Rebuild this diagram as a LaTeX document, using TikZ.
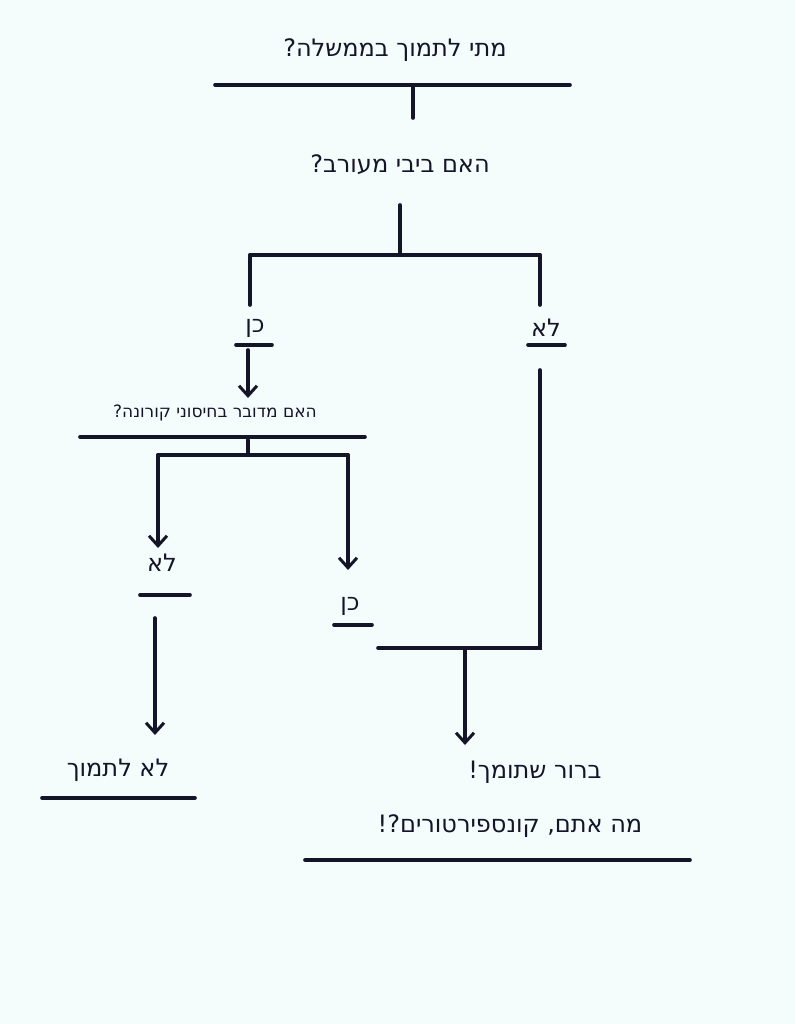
\documentclass[tikz,border=0pt]{standalone}
\usepackage{fontspec}
\setmainfont{DejaVu Sans}
\usetikzlibrary{arrows.meta}
\definecolor{ink}{HTML}{15152A}
\definecolor{bg}{HTML}{F4FCFC}
\newcommand{\hb}[1]{\hbox{#1}}
\begin{document}
\begin{tikzpicture}[x=1pt,y=-1pt,
  ln/.style={ink,line width=3.6pt,line cap=round},
  ar/.style={ln,-{Straight Barb[length=10pt,width=18pt,line width=3pt]}},
  t/.style={text=ink,font=\fontsize{24}{26}\selectfont,inner sep=2pt},
  ts/.style={text=ink,font=\fontsize{17}{19}\selectfont,inner sep=2pt}]
\fill[bg] (0,0) rectangle (795,1024);
\useasboundingbox (0,0) rectangle (795,1024);
\node[t] (title) at (395,50) {\hb{?}\hb{בממשלה} \hb{לתמוך} \hb{מתי}};
\draw[ln] (215,85) -- (570,85);
\coordinate (tb) at (413,85);
\node[t] (q1) at (400,165) {\hb{?}\hb{מעורב} \hb{ביבי} \hb{האם}};
\draw[ln] (tb) -- (413,118);
\coordinate (q1b) at (400,205);
\coordinate (j) at (400,255);
\coordinate (jl) at (250,255);
\coordinate (jr) at (540,255);
\draw[ln] (q1b) -- (j);
\draw[ln] (jl) -- (jr);
\draw[ln] (jr) -- (540,305);
\draw[ln] (jl) -- (250,305);
\node[t] (yes1) at (255,328) {כן};
\draw[ln] (236,345) -- (272,345);
\node[t] (no1) at (546,328) {לא};
\draw[ln] (528,345) -- (565,345);
\node[ts] (q2) at (215,413) {\hb{?}\hb{קורונה} \hb{בחיסוני} \hb{מדובר} \hb{האם}};
\draw[ln] (80,437) -- (365,437);
\coordinate (y1b) at (248,350);
\draw[ar] (y1b) -- (248,398);
\coordinate (q2b) at (248,440);
\coordinate (k) at (248,455);
\coordinate (kl) at (158,455);
\coordinate (kr) at (348,455);
\draw[ln] (q2b) -- (k);
\draw[ln] (kl) -- (kr);
\node[t] (no2) at (162,563) {לא};
\draw[ln] (140,595) -- (190,595);
\node[t] (yes2) at (350,606) {כן};
\draw[ln] (334,625) -- (372,625);
\draw[ar] (kl) -- (158,548);
\draw[ar] (kr) -- (348,570);
\coordinate (m) at (465,648);
\coordinate (r1) at (540,370);
\draw[ln] (r1) -- (540,648) -- (378,648);
\node[t] (end1) at (118,770) {\hb{לתמוך} \hb{לא}};
\draw[ln] (42,798) -- (195,798);
\draw[ar] (155,618) -- (155,735);
\node[t] (end2) at (535,772) {\hb{!}\hb{שתומך} \hb{ברור}};
\node[t] (end3) at (510,826) {\hb{!?}\hb{קונספירטורים} \hb{,}\hb{אתם} \hb{מה}};
\draw[ln] (305,860) -- (690,860);
\draw[ar] (m) -- (465,745);
\end{tikzpicture}
\end{document}
